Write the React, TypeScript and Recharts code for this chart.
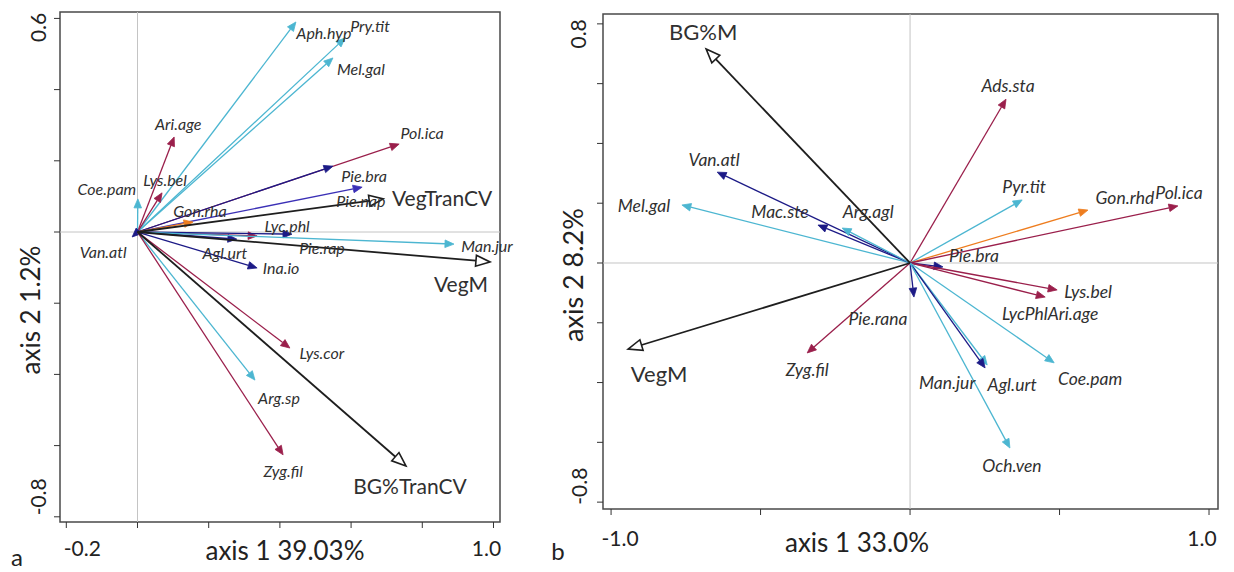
import React from "react";
import { ScatterChart, Scatter, XAxis, YAxis, ReferenceLine, ReferenceArea } from "recharts";

// ---- panel a : species & environmental scores (axis 1 39.03%, axis 2 1.2%) ----
const spNamesA = ["Aph.hyp", "Pry.tit", "Mel.gal", "Ari.age", "Lys.bel", "Coe.pam", "Pol.ica", "Pie.nap", "Pie.bra", "Gon.rha", "Lyc.phl", "Pie.rap", "Agl.urt", "Man.jur", "Ina.io", "Van.atl", "Lys.cor", "Arg.sp", "Zyg.fil"];
const spAx1A = [0.445, 0.583, 0.549, 0.103, 0.069, 0.001, 0.735, 0.549, 0.631, 0.156, 0.336, 0.434, 0.279, 0.889, 0.336, -0.015, 0.428, 0.330, 0.409];
const spAx2A = [0.590, 0.545, 0.489, 0.267, 0.110, 0.093, 0.247, 0.185, 0.126, 0.028, -0.011, -0.006, -0.020, -0.034, -0.101, -0.014, -0.326, -0.416, -0.626];
const envNamesA = ["VegTranCV", "VegM", "BG%TranCV"];
const envAx1A = [0.690, 0.990, 0.754];
const envAx2A = [0.093, -0.084, -0.657];
const xTicksA = [-0.2, 0, 0.2, 0.4, 0.6, 0.8, 1.0];
const yTicksA = [0.6, 0.4, 0.2, 0, -0.2, -0.4, -0.6, -0.8];

// ---- panel b (axis 1 33.0%, axis 2 8.2%) ----
const spNamesB = ["Ads.sta", "Van.atl", "Mel.gal", "Mac.ste", "Arg.agl", "Pyr.tit", "Gon.rhd", "Pol.ica", "Pie.bra", "Lys.bel", "LycPhlAri.age", "Pie.rana", "Zyg.fil", "Man.jur", "Agl.urt", "Coe.pam", "Och.ven"];
const spAx1B = [0.321, -0.645, -0.763, -0.308, -0.227, 0.375, 0.595, 0.896, 0.110, 0.492, 0.452, 0.013, -0.344, 0.258, 0.251, 0.482, 0.334];
const spAx2B = [0.548, 0.304, 0.194, 0.127, 0.117, 0.211, 0.177, 0.191, -0.013, -0.090, -0.114, -0.114, -0.301, -0.341, -0.351, -0.334, -0.619];
const envNamesB = ["BG%M", "VegM"];
const envAx1B = [-0.682, -0.943];
const envAx2B = [0.716, -0.288];
const xTicksB = [-1.0, -0.5, 0, 0.5, 1.0];
const yTicksB = [0.8, 0.6, 0.4, 0.2, 0, -0.2, -0.4, -0.6, -0.8];

const CYAN = "#4cb6d1";
const MAROON = "#9a1f4b";
const NAVY = "#1c1a86";
const BLUE = "#3b30b6";
const ORANGE = "#ee7d1f";
const BLACK = "#1e1e1e";
const FONT = "Lato, 'Open Sans', sans-serif";

const colA: Record<string, string> = {
  "Aph.hyp": CYAN, "Pry.tit": CYAN, "Mel.gal": CYAN, "Coe.pam": CYAN, "Man.jur": CYAN, "Arg.sp": CYAN,
  "Ari.age": MAROON, "Lys.bel": MAROON, "Pol.ica": MAROON, "Lyc.phl": MAROON, "Lys.cor": MAROON, "Zyg.fil": MAROON,
  "Pie.nap": NAVY, "Pie.rap": NAVY, "Agl.urt": NAVY, "Ina.io": NAVY, "Van.atl": NAVY,
  "Pie.bra": BLUE, "Gon.rha": ORANGE,
};
const colB: Record<string, string> = {
  "Ads.sta": MAROON, "Pol.ica": MAROON, "Lys.bel": MAROON, "LycPhlAri.age": MAROON, "Zyg.fil": MAROON,
  "Van.atl": NAVY, "Mac.ste": NAVY, "Pie.bra": NAVY, "Pie.rana": NAVY, "Agl.urt": NAVY,
  "Mel.gal": CYAN, "Arg.agl": CYAN, "Pyr.tit": CYAN, "Man.jur": CYAN, "Coe.pam": CYAN, "Och.ven": CYAN,
  "Gon.rhd": ORANGE,
};

// label placement relative to arrow tip (px)
const offA: Record<string, [number, number]> = {
  "Aph.hyp": [28, 11], "Pry.tit": [25, -12], "Mel.gal": [28, 11], "Ari.age": [4, -13], "Lys.bel": [3, -13],
  "Coe.pam": [-31, -10], "Pol.ica": [23, -12], "Pie.nap": [28, 34], "Pie.bra": [2, -12], "Gon.rha": [7, -12],
  "Lyc.phl": [30, -10], "Pie.rap": [30, 13], "Agl.urt": [-12, 13], "Man.jur": [33, 1], "Ina.io": [24, 0],
  "Van.atl": [-29, 15], "Lys.cor": [32, 4], "Arg.sp": [24, 17], "Zyg.fil": [0, 16],
  VegTranCV: [59, -1], VegM: [-29, 22], "BG%TranCV": [4, 20],
};
const offB: Record<string, [number, number]> = {
  "Ads.sta": [2, -14], "Van.atl": [-3, -13], "Mel.gal": [-38, 0], "Mac.ste": [-38, -14], "Arg.agl": [26, -17],
  "Pyr.tit": [2, -13], "Gon.rhd": [37, -13], "Pol.ica": [1, -13], "Pie.bra": [31, -11], "Lys.bel": [31, 2],
  "LycPhlAri.age": [5, 16], "Pie.rana": [-36, 21], "Zyg.fil": [0, 17], "Man.jur": [-40, 18], "Agl.urt": [27, 17],
  "Coe.pam": [36, 16], "Och.ven": [2, 17],
  "BG%M": [-3, -17], VegM: [31, 24],
};

type Vec = { name: string; x: number; y: number };
const zip = (n: string[], a: number[], b: number[]): Vec[] => n.map((name, i) => ({ name, x: a[i], y: b[i] }));

const arrow = (color: string, open: boolean) => (p: any) => {
  const { x1, y1, x2, y2 } = p;
  const a = Math.atan2(y2 - y1, x2 - x1);
  const c = Math.cos(a);
  const s = Math.sin(a);
  const len = open ? 14 : 9;
  const half = open ? 5.5 : 3.8;
  const bx = x2 - len * c;
  const by = y2 - len * s;
  const pts = `${x2},${y2} ${bx - half * s},${by + half * c} ${bx + half * s},${by - half * c}`;
  return (
    <g>
      <line x1={x1} y1={y1} x2={bx} y2={by} stroke={color} strokeWidth={open ? 1.8 : 1.3} />
      <polygon points={pts} fill={open ? "#fff" : color} stroke={color} strokeWidth={open ? 1.6 : 0.8} />
    </g>
  );
};

const labelShape = (off: Record<string, [number, number]>, size: number, italic: boolean) => (p: any) => {
  const o = off[p.payload.name] ?? [0, 0];
  return (
    <text x={p.cx + o[0]} y={p.cy + o[1]} textAnchor="middle" dominantBaseline="central" fontSize={size}
      fontStyle={italic ? "italic" : "normal"} fill="#303030" fontFamily={FONT}>
      {p.payload.name}
    </text>
  );
};

const xTick = (shift: Record<string, number>, dy: number) => (p: any) => {
  const k = Number(p.payload.value).toFixed(1);
  if (!(k in shift)) return <g />;
  return (
    <text x={p.x + shift[k]} y={p.y + dy} textAnchor="middle" dominantBaseline="central" fontSize={21} fill="#222" fontFamily={FONT}>
      {k}
    </text>
  );
};

const yTick = (shift: Record<string, number>, dx: number) => (p: any) => {
  const k = Number(p.payload.value).toFixed(1);
  if (!(k in shift)) return <g />;
  const x = p.x + dx;
  const y = p.y + shift[k];
  return (
    <text x={x} y={y} transform={`rotate(-90 ${x} ${y})`} textAnchor="middle" dominantBaseline="central" fontSize={21} fill="#222" fontFamily={FONT}>
      {k}
    </text>
  );
};

interface PanelProps {
  width: number;
  margin: { top: number; right: number; bottom: number; left: number };
  xDomain: [number, number];
  yDomain: [number, number];
  xTicks: number[];
  yTicks: number[];
  species: Vec[];
  env: Vec[];
  colors: Record<string, string>;
  offsets: Record<string, [number, number]>;
  spSize: number;
  envSize: number;
  xShift: Record<string, number>;
  yShift: Record<string, number>;
  xDy: number;
  yDx: number;
}

// axes are 30px; margin holds the rest so the plot box lands where the reference has it
const Panel = (pr: PanelProps) => (
  <ScatterChart width={pr.width} height={572} margin={pr.margin}>
    <XAxis type="number" dataKey="x" domain={pr.xDomain} ticks={pr.xTicks} interval={0} height={30}
      axisLine={false} tickLine={{ stroke: "#333" }} tickSize={6} tick={xTick(pr.xShift, pr.xDy)} />
    <YAxis type="number" dataKey="y" domain={pr.yDomain} ticks={pr.yTicks} interval={0} width={30}
      axisLine={false} tickLine={{ stroke: "#333" }} tickSize={6} tick={yTick(pr.yShift, pr.yDx)} />
    <ReferenceLine x={0} stroke="#c4c4c4" strokeWidth={1} />
    <ReferenceLine y={0} stroke="#c4c4c4" strokeWidth={1} />
    <ReferenceArea x1={pr.xDomain[0]} x2={pr.xDomain[1]} y1={pr.yDomain[0]} y2={pr.yDomain[1]} fill="none" fillOpacity={0}
      stroke="#4a4a4a" strokeWidth={1.5} />
    {pr.species.map((v) => (
      <ReferenceLine key={v.name} segment={[{ x: 0, y: 0 }, { x: v.x, y: v.y }]} shape={arrow(pr.colors[v.name], false)} />
    ))}
    {pr.env.map((v) => (
      <ReferenceLine key={v.name} segment={[{ x: 0, y: 0 }, { x: v.x, y: v.y }]} shape={arrow(BLACK, true)} />
    ))}
    <Scatter data={pr.species} isAnimationActive={false} shape={labelShape(pr.offsets, pr.spSize, true)} />
    <Scatter data={pr.env} isAnimationActive={false} shape={labelShape(pr.offsets, pr.envSize, false)} />
  </ScatterChart>
);

const rot = (x: number, y: number) => `rotate(-90 ${x} ${y})`;

export default function App() {
  return (
    <div style={{ position: "absolute", left: 0, top: 0, width: 1234, height: 572, background: "#fff", fontFamily: FONT }}>
      <div style={{ position: "absolute", left: 0, top: 0 }}>
        <Panel width={540} margin={{ top: 12, right: 40, bottom: 20, left: 30 }}
          xDomain={[-0.2177, 1.0183]} yDomain={[-0.8146, 0.618]} xTicks={xTicksA} yTicks={yTicksA}
          species={zip(spNamesA, spAx1A, spAx2A)} env={zip(envNamesA, envAx1A, envAx2A)}
          colors={colA} offsets={offA} spSize={16} envSize={21}
          xShift={{ "-0.2": 16, "1.0": -7 }} yShift={{ "0.6": 9, "-0.8": -20 }} xDy={17} yDx={-14} />
      </div>
      <div style={{ position: "absolute", left: 540, top: 0 }}>
        <Panel width={694} margin={{ top: 14, right: 16, bottom: 33, left: 33 }}
          xDomain={[-1.027, 1.03]} yDomain={[-0.823, 0.833]} xTicks={xTicksB} yTicks={yTicksB}
          species={zip(spNamesB, spAx1B, spAx2B)} env={zip(envNamesB, envAx1B, envAx2B)}
          colors={colB} offsets={offB} spSize={17.5} envSize={22}
          xShift={{ "-1.0": 9, "1.0": -7 }} yShift={{ "0.8": 10, "-0.8": -16 }} xDy={20} yDx={-17} />
      </div>
      <svg width={1234} height={572} style={{ position: "absolute", left: 0, top: 0, pointerEvents: "none" }}>
        <g fill="#222" fontSize={26} textAnchor="middle" dominantBaseline="central">
          <text x={285} y={550}>axis 1 39.03%</text>
          <text x={30} y={310} transform={rot(30, 310)}>axis 2 1.2%</text>
          <text x={17} y={556} fontSize={24}>a</text>
          <text x={857} y={542}>axis 1 33.0%</text>
          <text x={572} y={275} transform={rot(572, 275)} fontSize={27}>axis 2 8.2%</text>
          <text x={558} y={550} fontSize={24}>b</text>
        </g>
      </svg>
    </div>
  );
}
